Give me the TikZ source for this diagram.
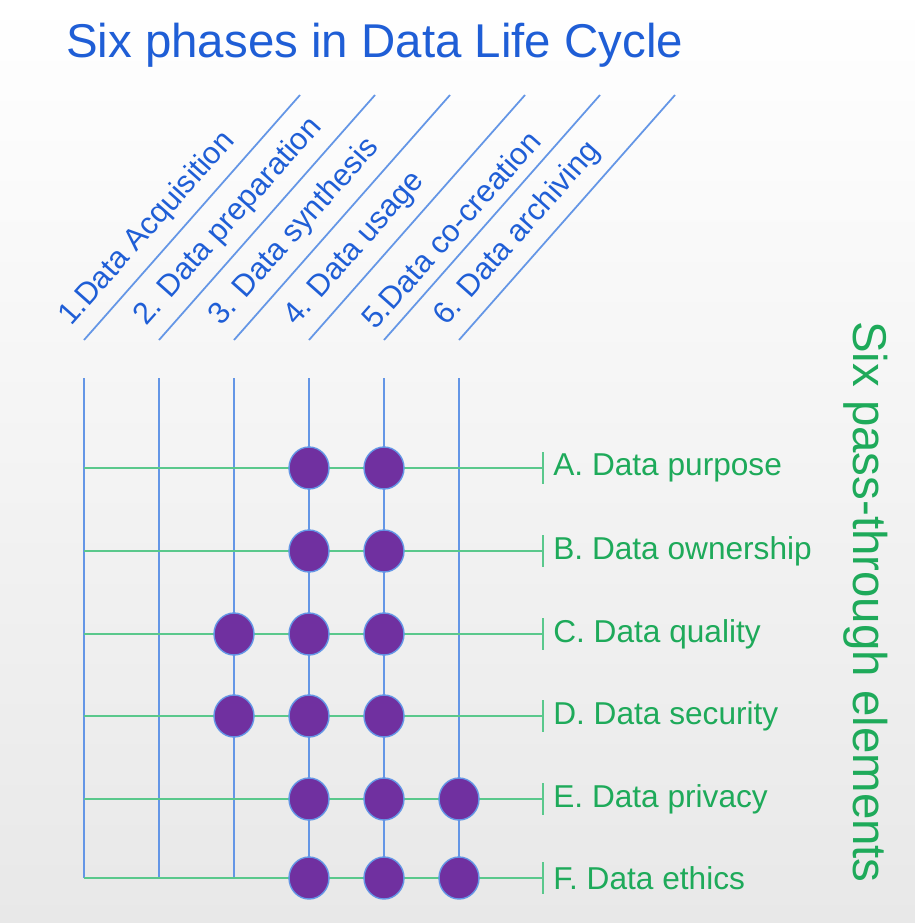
\documentclass[tikz,border=0pt]{standalone}
\usepackage{fontspec}
\setmainfont{Liberation Sans}
\usetikzlibrary{positioning}
\definecolor{phaseblue}{RGB}{31,94,214}
\definecolor{lineblue}{RGB}{100,150,230}
\definecolor{elemgreen}{RGB}{30,170,90}
\definecolor{linegreen}{RGB}{90,200,140}
\definecolor{dotpurple}{RGB}{112,48,160}
\tikzset{
  phase/.style={lineblue,line width=1.6pt},
  element/.style={linegreen,line width=1.6pt},
  dot/.style={ellipse,draw=lineblue,fill=dotpurple,line width=0.8pt,minimum width=0.8cm,minimum height=0.84cm,inner sep=0pt},
  phaselabel/.style={text=phaseblue,font=\fontsize{17.5}{20}\selectfont,rotate=48.4,anchor=south west,inner sep=1pt},
  elemlabel/.style={text=elemgreen,font=\fontsize{18}{21}\selectfont,anchor=west,inner sep=0pt}
}
\usetikzlibrary{shapes.geometric}
\begin{document}
\begin{tikzpicture}[x=0.02cm,y=-0.02cm]
  \shade[top color=white,bottom color=gray!18] (0,0) rectangle (915,923);
  \useasboundingbox (0,0) rectangle (915,923);

  \node[text=phaseblue,font=\fontsize{27}{31}\selectfont,anchor=west] (title) at (60,45) {Six phases in Data Life Cycle};
  \node[text=elemgreen,font=\fontsize{27}{31}\selectfont,rotate=-90] (side) at (866,602) {Six pass-through elements};

  % phases: columns and slanted labels
  \foreach \i/\txt in {1/1.Data Acquisition,2/2. Data preparation,3/3. Data synthesis,
                       4/4. Data usage,5/5.Data co-creation,6/6. Data archiving} {
    \pgfmathsetmacro{\xx}{84+75*(\i-1)}
    \coordinate (pt\i) at (\xx,378);
    \coordinate (pb\i) at (\xx,878);
    \coordinate (ds\i) at (\xx,340);
    \coordinate (de\i) at (\xx+216,95);
    \draw[lineblue,line width=1pt] (ds\i) -- (de\i);
    \node[phaselabel] (pl\i) at (\xx-8,334) {\txt};
    \draw[phase] (pt\i) -- (pb\i);
  }

  % elements: rows, end ticks and labels
  \foreach \j/\yy/\txt in {1/468/A. Data purpose,2/551/B. Data ownership,3/634/C. Data quality,
                           4/716/D. Data security,5/799/E. Data privacy,6/878/F. Data ethics} {
    \coordinate (rs\j) at (84,\yy);
    \coordinate (re\j) at (543,\yy);
    \draw[element] (rs\j) -- (re\j);
    \draw[element] ([yshift=-9pt]re\j) -- ([yshift=9pt]re\j);
    \node[elemlabel] (el\j) at (553,\yy) {\txt};
  }

  % pass-through points
  \foreach \c/\j in {4/1,5/1,4/2,5/2,3/3,4/3,5/3,3/4,4/4,5/4,4/5,5/5,6/5,4/6,5/6,6/6}
    \node[dot] (d\c\j) at (pt\c |- rs\j) {};
\end{tikzpicture}
\end{document}
